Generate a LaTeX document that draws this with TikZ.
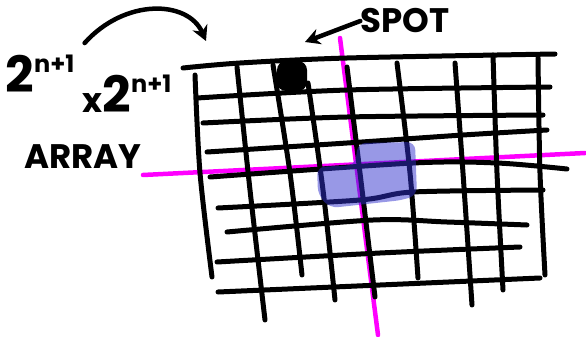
\documentclass[tikz,border=0pt]{standalone}
\usepackage{fontspec}
\setmainfont{Poppins}
\usepackage{tikz}
\usetikzlibrary{arrows.meta,positioning,calc}

\definecolor{pen}{RGB}{0,0,0}
\definecolor{crossmag}{RGB}{255,0,255}
\definecolor{patch}{RGB}{49,49,205}

\newcommand{\bigtwo}{{\fontsize{50}{50}\selectfont 2}\raisebox{20pt}{\fontsize{24}{24}\selectfont n+1}}

\begin{document}
\begin{tikzpicture}[
    x=1pt, y=-1pt,
    ink/.style={draw=pen, line width=5pt, line cap=round, line join=round},
    cross/.style={draw=crossmag, line width=4.5pt, line cap=round},
    hand/.style={font=\fontsize{34}{34}\selectfont\bfseries, inner sep=0pt},
    arr/.style={-{Stealth[length=15pt, width=16pt]}, line width=4.5pt, line cap=round},
]
\useasboundingbox (0,0) rectangle (586,337);

% magenta cross
\draw[cross] (143,175) -- (585,153);
\draw[cross] (340,38) -- (378,335);

% rows of the array
\draw[ink] plot[smooth] coordinates {(183,68) (240,63) (347,58) (555,54)};
\draw[ink] plot[smooth] coordinates {(197,98) (347,90) (550,87)};
\draw[ink] plot[smooth] coordinates {(203,123) (347,117) (543,115)};
\draw[ink] plot[smooth] coordinates {(207,152) (347,143) (463,135) (547,130)};
\draw[ink] plot[smooth] coordinates {(210,177) (413,163) (497,163) (567,169)};
\draw[ink] plot[smooth] coordinates {(218,208) (360,200) (413,192) (543,190)};
\draw[ink] plot[smooth] coordinates {(227,232) (373,220) (447,222) (527,225)};
\draw[ink] plot[smooth] coordinates {(217,262) (380,253) (520,247)};
\draw[ink] plot[smooth] coordinates {(218,292) (380,285) (540,278)};

% columns of the array
\draw[ink] plot[smooth] coordinates {(195,75) (200,173) (212,277)};
\draw[ink] plot[smooth] coordinates {(237,67) (250,190) (265,320)};
\draw[ink] plot[smooth] coordinates {(273,65) (290,173) (302,275)};
\draw[ink] plot[smooth] coordinates {(308,83) (323,190) (335,300)};
\draw[ink] plot[smooth] coordinates {(347,67) (360,173) (375,297)};
\draw[ink] plot[smooth] coordinates {(397,63) (410,173) (418,278)};
\draw[ink] plot[smooth] coordinates {(455,63) (463,173) (472,305)};
\draw[ink] plot[smooth] coordinates {(493,55) (497,173) (503,290)};
\draw[ink] plot[smooth] coordinates {(538,58) (540,173) (545,275)};

% shaded patch round the centre
\fill[patch, opacity=0.5, rounded corners=8pt]
  (358,143) -- (415,142) -- (417,195) -- (403,200) -- (330,208)
  -- (318,195) -- (317,167) -- (355,165) -- cycle;

% the spot
\node[rectangle, rounded corners=9pt, fill=pen, minimum size=30pt, inner sep=0pt] (spot) at (292,76) {};

% labels
\node[hand] (spotlbl) at (405,21) {SPOT};
\node[hand, font=\bfseries] (dima) at (40,74) {\bigtwo};
\node[hand, font=\bfseries] (dimb) at (127,94) {{\fontsize{34}{34}\selectfont x}\bigtwo};
\node[hand] (arraylbl) at (83,157) {ARRAY};

\coordinate (spottip) at (305,42);
\coordinate (cornertip) at (206,41);

\draw[arr] (spotlbl.west) -- (spottip);
\draw[arr] ($(dima.north east)+(10,-12)$) .. controls (125,-2) and (188,0) .. (cornertip);

\end{tikzpicture}
\end{document}
